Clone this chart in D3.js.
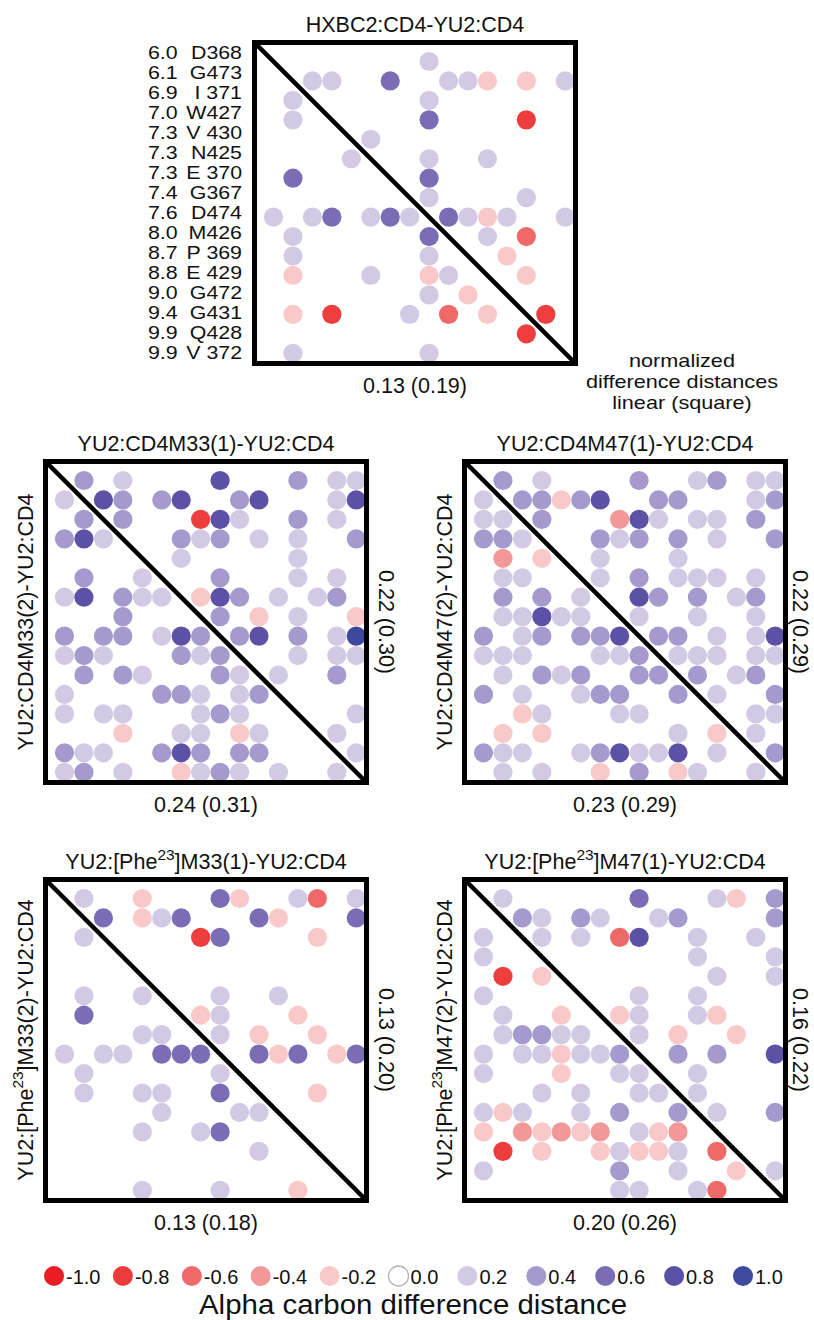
<!DOCTYPE html>
<html><head><meta charset="utf-8">
<script src="https://cdn.jsdelivr.net/npm/d3@7"></script>
<style>
body{margin:0;background:#fff}
svg text{font-family:"Liberation Sans",Arial,Helvetica,sans-serif;fill:#111}
</style>
</head><body>
<svg id="chart" width="814" height="1320"></svg>
<script>
// ---------------- DATA ----------------
const rowNumbers = ["6.0","6.1","6.9","7.0","7.3","7.3","7.3","7.4","7.6","8.0","8.7","8.8","9.0","9.4","9.9","9.9"];
const residues = ["D368","G473","I 371","W427","V 430","N425","E 370","G367","D474","M426","P 369","E 429","G472","G431","Q428","V 372"];

// cell codes: "." = 0, "1".."5" = 0.2..1.0, "A".."E" = -0.2..-1.0
const codeValues = {".":0,"1":0.2,"2":0.4,"3":0.6,"4":0.8,"5":1.0,"A":-0.2,"B":-0.4,"C":-0.6,"D":-0.8,"E":-1.0};

const matrixHXBC2 = [
"........1.......",
"..11..3..11A.A.1",
".1......1.......",
".1......3....D..",
".....1..........",
"....1...1..1....",
".3......3.......",
"........1....1..",
"1.13.131.31A1..1",
".1......3..1.C..",
".1......1...A...",
".A...1..A1...A..",
"........1.A.....",
".A.D...1.C.A..D.",
".............D..",
".1......1......."];

const matrixM33 = [
".2.1....4...2.11",
"1.42.24..24...14",
".2.2...D41..2.1.",
"241...212.1.1..2",
"......1.....1...",
".2..1...2...1.1.",
"14.211.A42.1.12.",
"...2....2.A.1..A",
"2.22.142.24.2.15",
"121...212...1.11",
".2.21...21.1..2.",
"1....221.12.....",
"1.11...121.....1",
"...A..11.A1...1.",
"211..242.22....1",
"12.1..A121.1..1."];

const matrixM47 = [
".2.1....2..12.11",
"1.22A24..22...12",
"11.2...B41.11.2.",
"221...212.2.1..2",
".B.A..1...1.....",
".11...1.2.111.1.",
".2.2.1..42.2.12.",
".11411..1..1..1.",
"2.12.224.22.1.14",
"111...112.111.11",
".1.212..22.2.12.",
"2.1..122..2.1..2",
"..A1...11.....11",
".A.A......1.A.1.",
"211..124114.1..2",
".1.1..A.2.A1..1."];

const matrixPheM33 = [
".1..A...3A..1C.1",
"..3.A13...3A...3",
".1.....D3....A..",
"................",
"................",
".1..1...1..1....",
".3.....A1...A...",
"....11..1.A..A..",
"1.11.333..3A3.A3",
".1......1.......",
".1..11..3....A..",
".....1...11.....",
"....1..13.......",
"..........1.....",
"................",
"....1...1...A..."];

const matrixPheM47 = [
".1......3...1A.2",
"..21.21..12....2",
"1..1.1.C4..1..1.",
"1..........1...1",
".D.A........1..1",
"1.......1..1....",
".1..A..A1..1A...",
".12211..1.A..A..",
"1.11A112..2.2..4",
"1...A..11..1....",
"...1.1..11.1....",
"1A1..1.2..2.1..2",
"A.BABAB.1AB.....",
".D.A..A1AA1.C...",
"1......2..1..A.1",
".......11..1C..."];

const panelMatrices = [matrixHXBC2, matrixM33, matrixM47, matrixPheM33, matrixPheM47];
const panelTitles = ["HXBC2:CD4-YU2:CD4","YU2:CD4M33(1)-YU2:CD4","YU2:CD4M47(1)-YU2:CD4","YU2:[Phe^{23}]M33(1)-YU2:CD4","YU2:[Phe^{23}]M47(1)-YU2:CD4"];
const leftLabels = [null,"YU2:CD4M33(2)-YU2:CD4","YU2:CD4M47(2)-YU2:CD4","YU2:[Phe^{23}]M33(2)-YU2:CD4","YU2:[Phe^{23}]M47(2)-YU2:CD4"];
const bottomLabels = ["0.13 (0.19)","0.24 (0.31)","0.23 (0.29)","0.13 (0.18)","0.20 (0.26)"];
const rightLabels = [null,"0.22 (0.30)","0.22 (0.29)","0.13 (0.20)","0.16 (0.22)"];
const noteLines = ["normalized","difference distances","linear (square)"];

const legendValues = [-1.0,-0.8,-0.6,-0.4,-0.2,0.0,0.2,0.4,0.6,0.8,1.0];
const legendLabels = ["-1.0","-0.8","-0.6","-0.4","-0.2","0.0","0.2","0.4","0.6","0.8","1.0"];
const legendColors = ["#ec1c24","#ee3c3c","#f06969","#f39898","#f9c9c9","#ffffff","#d2cae5","#a59acd","#7a6db5","#5b51a4","#3d4a9d"];
const legendTitle = "Alpha carbon difference distance";

// ---------------- LAYOUT ----------------
const svg = d3.select("#chart");
const FONT = 21.5;
const S = 326;              // outer box size
const BORDER = 5;
const panelPos = [{x:252,y:40},{x:43,y:459},{x:462,y:459},{x:43,y:877},{x:462,y:877}];
const color = d3.scaleLinear().domain(legendValues).range(legendColors);

const defs = svg.append("defs");
defs.append("filter").attr("id","soft").attr("x","-20%").attr("y","-20%").attr("width","140%").attr("height","140%")
  .append("feGaussianBlur").attr("stdDeviation",0.55);

function richText(sel, str, fs){
  const parts = str.split(/\^\{(.*?)\}/);
  let reset = false;
  parts.forEach((p,i)=>{
    if(!p) return;
    if(i%2===1){
      sel.append("tspan").attr("font-size",fs*0.72).attr("dy",-fs*0.42).text(p);
      reset = true;
    } else {
      const t = sel.append("tspan").text(p);
      if(reset){ t.attr("dy",fs*0.42); reset=false; }
    }
  });
}
// widen a compact text horizontally so it keeps the reference's glyph width
function widen(sel, k){
  sel.each(function(){ const w=this.getComputedTextLength(); d3.select(this).attr("textLength",w*k).attr("lengthAdjust","spacingAndGlyphs"); });
}

panelMatrices.forEach((mat,pi)=>{
  const {x:x0,y:y0} = panelPos[pi];
  const g = svg.append("g");
  const n = mat.length;
  const xs = d3.scaleLinear().domain([0,n-1]).range([x0+21.5, x0+21.5+(n-1)*19.45]);
  const ys = d3.scaleLinear().domain([0,n-1]).range([y0+21.5, y0+21.5+(n-1)*19.45]);
  const cells = [];
  mat.forEach((row,r)=>{ row.split("").forEach((ch,c)=>{ const v=codeValues[ch]; if(v!==0) cells.push({r,c,v}); }); });
  g.append("g").attr("filter","url(#soft)").selectAll("circle").data(cells).join("circle")
    .attr("cx",d=>xs(d.c)).attr("cy",d=>ys(d.r)).attr("r",9.6)
    .attr("fill",d=>color(d.v));
  // diagonal
  g.append("line").attr("x1",x0+2.5).attr("y1",y0+2.5).attr("x2",x0+S-2.5).attr("y2",y0+S-2.5)
    .attr("stroke","#000").attr("stroke-width",4.5);
  // border
  g.append("rect").attr("x",x0+BORDER/2).attr("y",y0+BORDER/2).attr("width",S-BORDER).attr("height",S-BORDER)
    .attr("fill","none").attr("stroke","#000").attr("stroke-width",BORDER);
  // title
  const t = g.append("text").attr("x",x0+S/2).attr("y",y0-8).attr("text-anchor","middle").attr("font-size",FONT);
  richText(t, panelTitles[pi], FONT);
  // bottom label
  g.append("text").attr("x",x0+S/2).attr("y",y0+S+27).attr("text-anchor","middle").attr("font-size",FONT).text(bottomLabels[pi]);
  if(leftLabels[pi]){
    const lt = g.append("text").attr("transform",`translate(${x0-10.5},${y0+S/2}) rotate(-90)`)
      .attr("text-anchor","middle").attr("font-size",FONT);
    richText(lt, leftLabels[pi], FONT);
  }
  if(rightLabels[pi]){
    const off = x0 > 400 ? 5 : 10;
    g.append("text").attr("transform",`translate(${x0+S+off},${y0+S/2}) rotate(90)`)
      .attr("text-anchor","middle").attr("font-size",FONT).text(rightLabels[pi]);
  }
});

// top panel row labels
const LFS = 17.8;
const ly = d3.scaleLinear().domain([0,rowNumbers.length-1]).range([58.5, 58.5+15*20.03]);
svg.append("g").selectAll("text").data(rowNumbers).join("text")
  .attr("x",148).attr("y",(d,i)=>ly(i)).attr("font-size",LFS).text(d=>d)
  .call(widen,1.2);
svg.append("g").selectAll("text").data(residues).join("text")
  .attr("x",242).attr("y",(d,i)=>ly(i)).attr("font-size",LFS).attr("text-anchor","end")
  .style("white-space","pre").text(d=>d)
  .call(widen,1.2);

// note
svg.append("g").selectAll("text").data(noteLines).join("text")
  .attr("x",682).attr("y",(d,i)=>366.7+i*21).attr("text-anchor","middle").attr("font-size",18.5).text(d=>d)
  .call(widen,1.17);

// legend
const lx = d3.scaleLinear().domain([0,legendValues.length-1]).range([54,743]);
const leg = svg.append("g");
const items = leg.selectAll("g").data(legendValues).join("g").attr("transform",(d,i)=>`translate(${lx(i)},1276)`);
items.append("circle").attr("r",10).attr("fill",d=>color(d))
  .attr("stroke",d=>d===0?"#b5b5b5":"none").attr("stroke-width",1.3);
items.append("text").attr("x",12).attr("y",7.5).attr("font-size",20).text((d,i)=>legendLabels[i]);
leg.append("text").attr("x",413).attr("y",1313.5).attr("text-anchor","middle").attr("font-size",27)
  .attr("textLength",428).attr("lengthAdjust","spacingAndGlyphs").text(legendTitle);
</script>
</body></html>
